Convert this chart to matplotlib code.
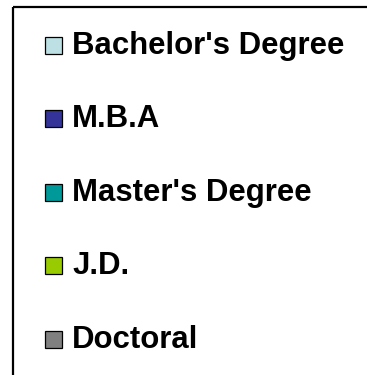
import matplotlib.pyplot as plt
from matplotlib.patches import Rectangle

labels = ["Bachelor's Degree", "M.B.A", "Master's Degree", "J.D.", "Doctoral"]
colors = ["#BCE0E3", "#333399", "#009999", "#99CC00", "#808080"]

fig = plt.figure(figsize=(3.67, 3.75), dpi=100)
ax = fig.add_axes([0, 0, 1, 1])
ax.set_xlim(0, 367)
ax.set_ylim(375, 0)
ax.axis('off')

# legend frame, runs off the right and bottom edges
ax.add_patch(Rectangle((12.5, 6.5), 400, 400, fill=False, edgecolor='black', linewidth=1.6))

y0, step = 45.5, 73.4
for i, (lab, c) in enumerate(zip(labels, colors)):
    y = y0 + i * step
    ax.add_patch(Rectangle((44.5, y - 8.5), 17, 17, facecolor=c, edgecolor='black', linewidth=0.9))
    ax.text(72, y + 8.5, lab, fontsize=22.4, fontweight='bold', family='Liberation Sans',
            va='baseline', ha='left')

fig.savefig('out.png', dpi=100)
